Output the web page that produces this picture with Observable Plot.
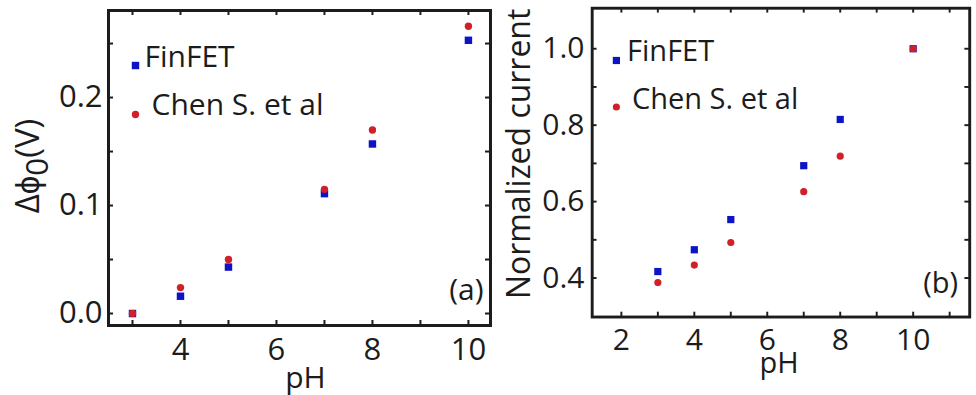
<!DOCTYPE html>
<html><head><meta charset="utf-8">
<script src="https://cdn.jsdelivr.net/npm/d3@7"></script>
<script src="https://cdn.jsdelivr.net/npm/@observablehq/plot@0.6"></script>
<style>
html,body{margin:0;padding:0;background:#fff;}
body{width:976px;height:395px;overflow:hidden;position:relative;font-family:"Open Sans",sans-serif;}
#pa{position:absolute;left:0;top:0;}
#pb{position:absolute;left:492px;top:0;}
</style></head><body><div id="pa"></div><div id="pb"></div>
<script>
// ---- data ----
const pH = [3, 4, 5, 7, 8, 10];
const finfetShift = [0.000, 0.016, 0.043, 0.111, 0.157, 0.253];
const chenShift = [0.000, 0.024, 0.050, 0.115, 0.170, 0.266];
const finfetCurrent = [0.417, 0.474, 0.553, 0.694, 0.815, 1.000];
const chenCurrent = [0.388, 0.434, 0.493, 0.626, 0.719, 1.000];
const seriesNames = ["FinFET", "Chen S. et al"];
const xTickLabelsA = [4, 6, 8, 10];
const xTicksA = [3, 4, 5, 6, 7, 8, 9, 10];
const yTickLabelsA = [0.0, 0.1, 0.2];
const yTicksA = [0.0, 0.05, 0.1, 0.15, 0.2, 0.25];
const xTickLabelsB = [2, 4, 6, 8, 10];
const xTicksB = [2, 3, 4, 5, 6, 7, 8, 9, 10, 11];
const yTickLabelsB = [0.4, 0.6, 0.8, 1.0];
const yTicksB = [0.4, 0.5, 0.6, 0.7, 0.8, 0.9, 1.0];
const xTitle = "pH";
const yTitleA = ["Δϕ", "0", "(V)"];
const yTitleB = "Normalized current";
const panelTags = ["(a)", "(b)"];

const BLUE = "#0c14c6", RED = "#d0202a", INK = "#1c1c1c";
const FS = 30, FST = 31, FSR = 33;

function panel(o) {
  const fw = o.width - o.ml - o.mr, fh = o.height - o.mt - o.mb;
  const fin = pH.map((p, i) => ({pH: p, v: o.s1[i]}));
  const chen = pH.map((p, i) => ({pH: p, v: o.s2[i]}));
  const T = 5;
  return Plot.plot({
    width: o.width, height: o.height,
    marginLeft: o.ml, marginRight: o.mr, marginTop: o.mt, marginBottom: o.mb,
    style: {background: "transparent", overflow: "visible", fontFamily: "'Open Sans', sans-serif", color: INK},
    x: {domain: o.xDomain},
    y: {domain: o.yDomain},
    marks: [
      Plot.tickX(o.xTicks, {x: d => d, stroke: INK, strokeWidth: 2, insetTop: fh - T}),
      Plot.tickX(o.xTicks, {x: d => d, stroke: INK, strokeWidth: 2, insetBottom: fh - T}),
      Plot.tickY(o.yTicks, {y: d => d, stroke: INK, strokeWidth: 2, insetRight: fw - T}),
      Plot.tickY(o.yTicks, {y: d => d, stroke: INK, strokeWidth: 2, insetLeft: fw - T}),
      Plot.axisX(o.xLabels, {anchor: "bottom", tickSize: 0, tickPadding: o.xPad, fontSize: FST, fill: INK, label: null, tickFormat: d3.format("d")}),
      Plot.axisY(o.yLabels, {anchor: "left", tickSize: 0, tickPadding: o.yPad, fontSize: FST, fill: INK, label: null, tickFormat: d3.format(".1f")}),
      Plot.dot(fin, {x: "pH", y: "v", symbol: "square", r: 4.2, fill: BLUE}),
      Plot.dot(chen, {x: "pH", y: "v", symbol: "circle", r: 3.7, fill: RED}),
      Plot.dot([seriesNames[0]], {frameAnchor: "top-left", dx: o.leg.sq[0], dy: o.leg.sq[1], symbol: "square", r: 4.2, fill: BLUE}),
      Plot.dot([seriesNames[1]], {frameAnchor: "top-left", dx: o.leg.ci[0], dy: o.leg.ci[1], symbol: "circle", r: 3.7, fill: RED}),
      Plot.text([seriesNames[0]], {text: d => d, frameAnchor: "top-left", dx: o.leg.t1[0], dy: o.leg.t1[1], textAnchor: "start", lineAnchor: "middle", fontSize: FS, fill: INK}),
      Plot.text([seriesNames[1]], {text: d => d, frameAnchor: "top-left", dx: o.leg.t2[0], dy: o.leg.t2[1], textAnchor: "start", lineAnchor: "middle", fontSize: FS, fill: INK}),
      Plot.text([o.tag], {text: d => d, frameAnchor: "bottom-right", dx: o.tagPos[0], dy: o.tagPos[1], textAnchor: "end", lineAnchor: "middle", fontSize: FS, fill: INK}),
      Plot.text([xTitle], {text: d => d, frameAnchor: "bottom", dx: o.xt[0], dy: o.xt[1], textAnchor: "middle", lineAnchor: "top", fontSize: FS, fill: INK}),
      Plot.text([o.yTitle], {text: d => d, frameAnchor: "left", rotate: -90, dx: o.yt[0], dy: o.yt[1], textAnchor: "middle", lineAnchor: "middle", fontSize: FSR, fill: INK}),
      Plot.frame({stroke: INK, strokeWidth: 3})
    ]
  });
}

const a = panel({
  width: 492, height: 395, ml: 108, mr: 2, mt: 10, mb: 70,
  xDomain: [2.5, 10.46], yDomain: [-0.0111, 0.2806],
  xTicks: xTicksA, yTicks: yTicksA, xLabels: xTickLabelsA, yLabels: yTickLabelsA,
  xPad: 12, yPad: 6, s1: finfetShift, s2: chenShift,
  leg: {sq: [27, 55], ci: [27, 104], t1: [36, 47], t2: [43, 95]},
  tag: panelTags[0], tagPos: [-7, -35], xt: [6, 41], yt: [-80, -2],
  yTitle: yTitleA.join("")
});
const b = panel({
  width: 500, height: 395, ml: 103, mr: 7, mt: 8, mb: 68,
  xDomain: [1.2, 11.55], yDomain: [0.298, 1.106],
  xTicks: xTicksB, yTicks: yTicksB, xLabels: xTickLabelsB, yLabels: yTickLabelsB,
  xPad: 12, yPad: 8, s1: finfetCurrent, s2: chenCurrent,
  leg: {sq: [25, 54], ci: [25, 102], t1: [36, 45], t2: [41, 94]},
  tag: panelTags[1], tagPos: [-12, -34], xt: [-2, 37], yt: [-75, -9],
  yTitle: yTitleB
});
document.getElementById("pa").appendChild(a);
document.getElementById("pb").appendChild(b);

// subscript in the left y title
d3.select(a).selectAll("text").filter(function() { return this.textContent === yTitleA.join(""); })
  .each(function() {
    const t = d3.select(this);
    t.text(null);
    t.append("tspan").text(yTitleA[0]);
    t.append("tspan").attr("dy", "0.3em").attr("font-size", "0.95em").text(yTitleA[1]);
    t.append("tspan").attr("dy", "-0.3em").text(yTitleA[2]);
  });
</script></body></html>
